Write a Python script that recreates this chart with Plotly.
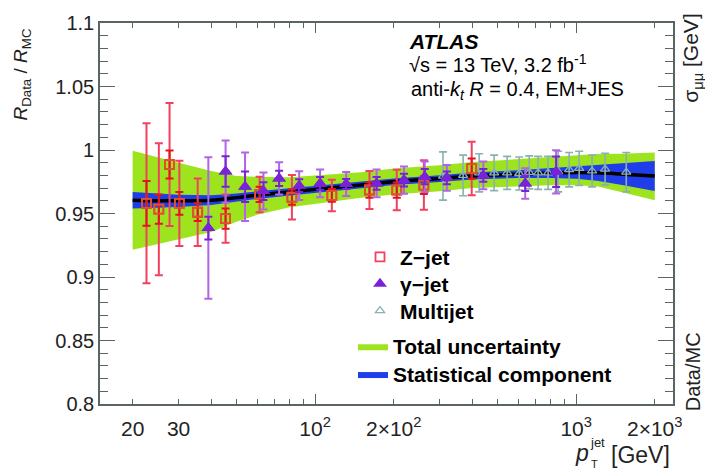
import plotly.graph_objects as go

# ---------------- data ----------------
# calibration band (combined in-situ fit)
band_pt = [20, 25, 30, 40, 50, 60, 80, 100, 150, 200, 300, 400, 600, 800, 1000, 1200, 1500, 2000]
band_center = [0.9605, 0.9600, 0.9600, 0.9605, 0.9625, 0.9645, 0.9670, 0.9690, 0.9725, 0.9750,
               0.9775, 0.9795, 0.9810, 0.9818, 0.9822, 0.9820, 0.9810, 0.9795]
tot_up = [0.039, 0.034, 0.030, 0.023, 0.017, 0.0145, 0.0115, 0.011, 0.010, 0.0105,
          0.0105, 0.011, 0.012, 0.0130, 0.0138, 0.0148, 0.016, 0.0185]
tot_dn = [0.039, 0.034, 0.030, 0.025, 0.019, 0.0155, 0.0120, 0.0115, 0.010, 0.0100,
          0.0100, 0.0095, 0.0095, 0.0095, 0.0100, 0.0105, 0.0143, 0.0190]
stat_err = [0.0065, 0.0055, 0.0048, 0.0038, 0.0032, 0.0030, 0.0028, 0.0027, 0.0026, 0.0026,
            0.0026, 0.0027, 0.0030, 0.0038, 0.0048, 0.0062, 0.0085, 0.0118]

# Z-jet
zjet_pt = [22.6, 25.2, 27.7, 30.2, 35.5, 45.4, 61.3, 81.5, 115.9, 161.5, 205.5, 261, 398]
zjet_val = [0.958, 0.9534, 0.9886, 0.958, 0.951, 0.946, 0.965, 0.9628, 0.9642, 0.9685, 0.9685, 0.9724, 0.9854]
zjet_tot = [0.063, 0.052, 0.0485, 0.0335, 0.0265, 0.019, 0.014, 0.0176, 0.0124, 0.015, 0.016, 0.0195, 0.021]
zjet_stat = [0.0176, 0.0115, 0.011, 0.009, 0.007, 0.008, 0.006, 0.006, 0.005, 0.006, 0.006, 0.007, 0.008]

# gamma-jet
gjet_pt = [39, 45.4, 53.9, 63.4, 72.8, 86.9, 104.5, 131.5, 172, 219, 263, 319.6, 441, 638, 838]
gjet_val = [0.9385, 0.983, 0.971, 0.9677, 0.9776, 0.9719, 0.9737, 0.9732, 0.9737, 0.9763, 0.979,
            0.9781, 0.980, 0.9737, 0.9828]
gjet_tot = [0.0557, 0.0245, 0.027, 0.0145, 0.0127, 0.0113, 0.011, 0.0094, 0.011, 0.0108, 0.012,
            0.0101, 0.011, 0.012, 0.017]
gjet_stat = [0.009, 0.012, 0.012, 0.007, 0.006, 0.005, 0.005, 0.004, 0.005, 0.005, 0.006, 0.005,
             0.005, 0.006, 0.012]

# multijet
mj_pt = [309, 369, 425, 485, 544, 605, 661, 715, 781, 853, 940, 1027, 1151, 1291, 1556]
mj_val = [0.9795, 0.980, 0.982, 0.982, 0.982, 0.9815, 0.9824, 0.982, 0.982, 0.983, 0.9845, 0.9855,
          0.9835, 0.985, 0.9825]
mj_err = [0.019, 0.016, 0.015, 0.014, 0.013, 0.013, 0.013, 0.013, 0.013, 0.016, 0.0135, 0.0135,
          0.0125, 0.0125, 0.0155]

x_tick_vals = [20, 30, 100, 200, 1000, 2000]
x_tick_text = ["20", "30", "10<sup>2</sup>", "2×10<sup>2</sup>", "10<sup>3</sup>", "2×10<sup>3</sup>"]
x_minor_vals = [40, 50, 60, 70, 80, 90, 300, 400, 500, 600, 700, 800, 900]
x_long_vals = [100, 1000]

# ---------------- style ----------------
FONT = "Liberation Sans, Arial, Helvetica, sans-serif"
GREEN = "#9de41f"
BLUE = "#1f3de8"
Z_COL = "#f2405f"
Z_STAT = "#e3141c"
G_COL = "#7a22d8"
G_BAR = "#b263e6"
M_COL = "#8cb0b2"
AX_COL = "#5a6464"

tot_hi = [c + u for c, u in zip(band_center, tot_up)]
tot_lo = [c - d for c, d in zip(band_center, tot_dn)]
st_hi = [c + s for c, s in zip(band_center, stat_err)]
st_lo = [c - s for c, s in zip(band_center, stat_err)]

fig = go.Figure()

# total band
fig.add_trace(go.Scatter(x=band_pt, y=tot_lo, mode="lines", line=dict(width=0, color=GREEN),
                         showlegend=False, hoverinfo="skip"))
fig.add_trace(go.Scatter(x=band_pt, y=tot_hi, mode="lines", line=dict(width=0, color=GREEN),
                         fill="tonexty", fillcolor=GREEN, name="<b>Total uncertainty</b>",
                         legend="legend4"))
# stat band
fig.add_trace(go.Scatter(x=band_pt, y=st_lo, mode="lines", line=dict(width=0, color=BLUE),
                         showlegend=False, hoverinfo="skip"))
fig.add_trace(go.Scatter(x=band_pt, y=st_hi, mode="lines", line=dict(width=0, color=BLUE),
                         fill="tonexty", fillcolor=BLUE, name="<b>Statistical component</b>",
                         legend="legend5"))
# central line
fig.add_trace(go.Scatter(x=band_pt, y=band_center, mode="lines", line=dict(width=3.5, color="black",
                         shape="spline"), showlegend=False))

# multijet
fig.add_trace(go.Scatter(x=mj_pt, y=mj_val, mode="markers", name="<b>Multijet</b>",
                         marker=dict(symbol="triangle-up-open", size=8, color=M_COL, line=dict(width=1.3)),
                         error_y=dict(type="data", array=mj_err, color=M_COL, thickness=1.6, width=4),
                         legend="legend3"))
# Z-jet (total then stat)
fig.add_trace(go.Scatter(x=zjet_pt, y=zjet_val, mode="markers", name="<b>Z−jet</b>",
                         marker=dict(symbol="square-open", size=9, color=Z_COL, line=dict(width=1.8)),
                         error_y=dict(type="data", array=zjet_tot, color=Z_COL, thickness=2, width=4),
                         legend="legend"))
fig.add_trace(go.Scatter(x=zjet_pt, y=zjet_val, mode="markers", showlegend=False,
                         marker=dict(symbol="square-open", size=9, color="#e0502a", line=dict(width=1.8)),
                         error_y=dict(type="data", array=zjet_stat, color=Z_STAT, thickness=2, width=4)))
# gamma-jet
fig.add_trace(go.Scatter(x=gjet_pt, y=gjet_val, mode="markers", name="<b>γ−jet</b>",
                         marker=dict(symbol="triangle-up", size=12, color=G_COL),
                         error_y=dict(type="data", array=gjet_tot, color=G_BAR, thickness=2, width=4),
                         legend="legend2"))
fig.add_trace(go.Scatter(x=gjet_pt, y=gjet_val, mode="markers", showlegend=False,
                         marker=dict(symbol="triangle-up", size=12, color=G_COL),
                         error_y=dict(type="data", array=gjet_stat, color=G_COL, thickness=2, width=4)))

# long ticks at decades via an overlaid axis
fig.add_trace(go.Scatter(x=[band_pt[0]], y=[band_center[0]], xaxis="x2", mode="markers",
                         marker=dict(opacity=0), showlegend=False, hoverinfo="skip"))


def leg(x_px, center_px):
    return dict(x=(x_px - 100) / 573, y=(404 - (center_px - 19.5)) / 384, xanchor="left",
                yanchor="top", bgcolor="rgba(0,0,0,0)",
                font=dict(family=FONT, size=21, color="black"), itemwidth=30)


x_range = [1.176, 3.371]
fig.update_layout(
    width=705, height=472,
    margin=dict(l=100, r=32, t=20, b=68),
    paper_bgcolor="white", plot_bgcolor="white",
    font=dict(family=FONT, size=21, color="#222"),
    xaxis=dict(type="log", range=x_range, tickvals=x_tick_vals, ticktext=x_tick_text,
               ticks="inside", ticklen=5, tickwidth=1.2, tickcolor=AX_COL, showgrid=False,
               zeroline=False, showline=True, linecolor=AX_COL, linewidth=1.6, mirror="ticks",
               tickfont=dict(size=21), ticklabelstandoff=5,
               minor=dict(tickvals=x_minor_vals, ticks="inside", ticklen=5, tickwidth=1.2,
                          tickcolor=AX_COL, showgrid=False)),
    xaxis2=dict(type="log", range=x_range, overlaying="x", side="bottom", tickvals=x_long_vals,
                showticklabels=False, ticks="inside", ticklen=10, tickwidth=1.2, tickcolor=AX_COL,
                showgrid=False, zeroline=False, showline=False, mirror="ticks"),
    yaxis=dict(range=[0.8, 1.1], dtick=0.05, tick0=0.8, ticks="inside", ticklen=15, tickwidth=1.2,
               tickcolor=AX_COL, showgrid=False, zeroline=False, showline=True, linecolor=AX_COL,
               linewidth=1.6, mirror="ticks", tickfont=dict(size=20),
               minor=dict(dtick=0.01, tick0=0.8, ticks="inside", ticklen=8, tickwidth=1.2,
                          tickcolor=AX_COL, showgrid=False)),
    legend=leg(360, 255),
    legend2=leg(360, 282),
    legend3=leg(360, 309),
    legend4=leg(353, 345),
    legend5=leg(353, 373),
    showlegend=True,
)

ann = [
    dict(text="<b><i>ATLAS</i></b>", x=407, y=39, size=21),
    dict(text="√s = 13 TeV, 3.2 fb<sup>-1</sup>", x=407, y=61, size=20),
    dict(text="anti-<i>k</i><sub><i>t</i></sub> <i>R</i> = 0.4, EM+JES", x=409, y=88, size=20),
]
for a in ann:
    fig.add_annotation(text=a["text"], xref="paper", yref="paper",
                       x=(a["x"] - 100) / 573, y=(404 - a["y"]) / 384,
                       xanchor="left", yanchor="middle", showarrow=False,
                       font=dict(family=FONT, size=a["size"], color="black"))


def px_ann(text, x, y, size, angle=0, xanchor="center"):
    fig.add_annotation(text=text, xref="paper", yref="paper",
                       x=(x - 100) / 573, y=(404 - y) / 384, xanchor=xanchor, yanchor="middle",
                       showarrow=False, textangle=angle,
                       font=dict(family=FONT, size=size, color="#222"))


# y title
px_ann("<i>R</i><sub>Data</sub> / <i>R</i><sub>MC</sub>", 22, 72, 19, angle=-90)
# x title pieces
px_ann("<i>p</i>", 582, 453, 23)
px_ann("jet", 597, 443, 13)
px_ann("T", 594, 464, 11)
px_ann("[GeV]", 609, 455, 23, xanchor="left")
# stray labels at the right edge
px_ann("σ<sub>μμ</sub> [GeV]", 692, 56, 21, angle=-90)
px_ann("Data/MC", 693, 372, 20, angle=-90)

fig.write_html("out.html")
